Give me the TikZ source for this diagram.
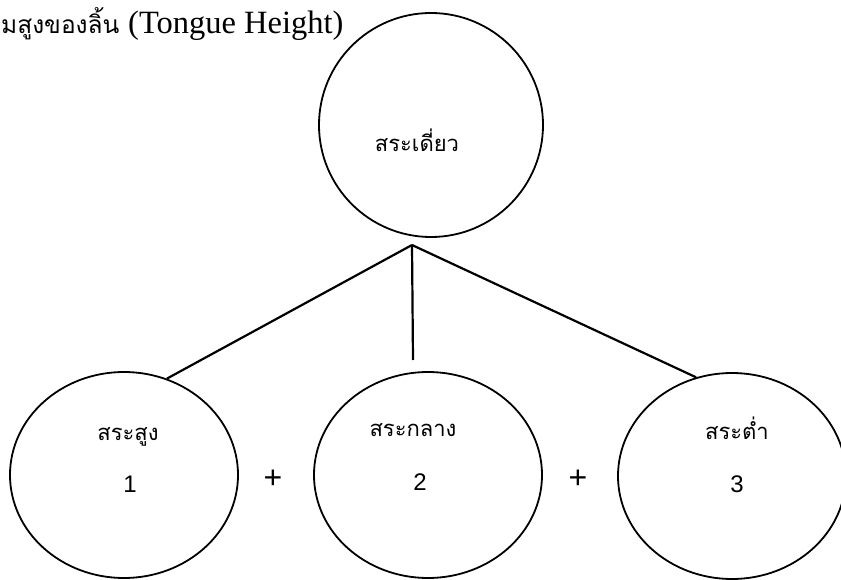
\documentclass[tikz,border=0pt]{standalone}
\usepackage{fontspec}
\setmainfont{Liberation Serif}
\setsansfont{Liberation Sans}
\newfontfamily\thaifont[Script=Thai]{Loma}
\usetikzlibrary{shapes.geometric}

\begin{document}
\begin{tikzpicture}[x=1pt,y=-1pt,
		vowel/.style={ellipse, draw, line width=1.8pt, inner sep=0pt},
		branch/.style={line width=2.2pt},
		thai/.style={inner sep=0pt, font=\thaifont\fontsize{22}{26}\selectfont},
		digit/.style={inner sep=0pt, font=\sffamily\fontsize{24}{28}\selectfont}]
		
		\useasboundingbox (0,0) rectangle (841,580);
		
		% heading
		\node[anchor=base west, inner sep=0pt, font=\thaifont\fontsize{24.5}{30}\selectfont] (headth) at (1,34) {มสูงของลิ้น};
		\node[anchor=base west, inner sep=0pt, font=\fontsize{32.5}{38}\selectfont] (headen) at (128,34) {(Tongue Height)};
		
		% single vowels on top
		\node[vowel, minimum width=224pt, minimum height=224pt] (single) at (431,125) {};
		\node[thai] (singletxt) at (417,140) {สระเดี่ยว};
		
		% the three heights
		\node[vowel, minimum width=228pt, minimum height=206pt] (high) at (124,475) {};
		\node[vowel, minimum width=228pt, minimum height=206pt] (mid) at (428,475) {};
		\node[vowel, minimum width=228pt, minimum height=206pt] (low) at (732,476) {};
		
		\node[thai] (hightxt) at (128,437) {สระสูง};
		\node[digit] (highnum) at (130,484) {1};
		\node[thai] (midtxt) at (413,430) {สระกลาง};
		\node[digit] (midnum) at (420,482) {2};
		\node[thai] (lowtxt) at (737,428) {สระต่ำ};
		\node[digit] (lownum) at (737,484) {3};
		
		\node[digit, font=\sffamily\fontsize{32}{36}\selectfont] (plusa) at (273,479) {+};
		\node[digit, font=\sffamily\fontsize{32}{36}\selectfont] (plusb) at (578,479) {+};
		
		% branches
		\coordinate (fork) at (412,245);
		\coordinate (midtop) at (413,360);
		\draw[branch] (fork) -- (high.66);
		\draw[branch] (fork) -- (midtop);
		\draw[branch] (fork) -- (low.110);
		
	\end{tikzpicture}
\end{document}
